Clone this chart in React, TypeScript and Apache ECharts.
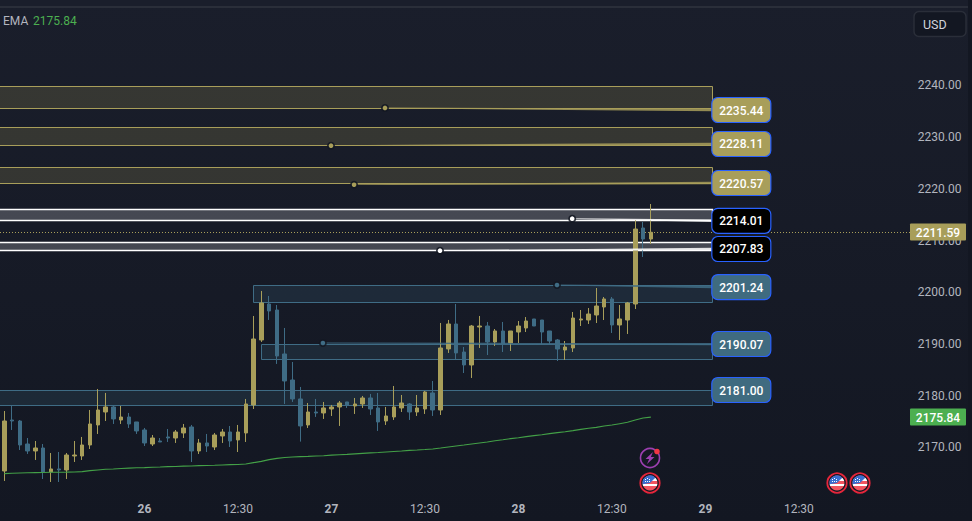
import React, { useEffect, useRef } from "react";
import * as echarts from "echarts";

const FONT = "Roboto, 'Liberation Sans', sans-serif";
const GOLD = "#A89E5A";
const BLUE = "#3F6C85";
const WHITE = "#FFFFFF";
const GREEN = "#4CAF50";

const opens = [2165.42,2175.28,2175.09,2170.64,2169.29,2169.87,2165.23,2165.81,2165.61,2168.32,2168.32,2170.45,2174.32,2176.83,2177.80,2175.28,2175.86,2174.90,2173.35,2170.64,2171.22,2172.00,2171.80,2172.77,2173.93,2169.29,2170.84,2170.06,2172.19,2172.96,2171.42,2172.77,2178.19,2190.76,2197.72,2196.56,2188.05,2183.02,2179.35,2174.32,2176.83,2176.64,2177.41,2177.80,2178.77,2177.99,2178.38,2179.54,2177.61,2175.09,2175.87,2177.61,2178.38,2176.83,2177.41,2180.51,2177.22,2189.02,2193.85,2188.43,2185.92,2193.27,2193.46,2190.37,2192.50,2190.18,2192.30,2193.08,2194.82,2194.62,2192.50,2190.76,2188.82,2189.21,2194.62,2194.62,2195.59,2197.14,2198.69,2193.66,2194.62,2197.72,2212.42,2210.29];
const closes = [2175.09,2175.09,2170.45,2169.29,2169.87,2165.23,2165.81,2165.61,2168.51,2168.51,2170.45,2174.51,2177.22,2177.80,2175.48,2175.86,2174.51,2173.16,2170.84,2171.80,2171.03,2171.80,2172.96,2173.74,2169.29,2170.84,2170.25,2172.38,2172.96,2171.22,2172.96,2178.38,2190.95,2197.92,2196.37,2187.66,2182.83,2179.35,2174.13,2176.83,2176.64,2177.61,2177.80,2178.57,2178.19,2178.38,2179.54,2177.41,2174.90,2176.06,2177.80,2178.57,2176.83,2177.61,2180.70,2177.22,2189.21,2193.85,2188.25,2185.92,2193.46,2193.46,2190.37,2192.50,2189.98,2192.50,2193.46,2194.43,2193.46,2192.30,2190.56,2189.01,2189.40,2195.01,2194.82,2195.78,2197.33,2198.69,2193.66,2194.82,2197.91,2212.22,2210.29,2211.59];
const lows = [2163.49,2173.35,2169.48,2168.71,2167.55,2163.87,2163.29,2163.29,2163.87,2167.16,2167.55,2169.67,2172.58,2175.09,2174.51,2174.51,2173.74,2172.58,2170.25,2170.25,2171.03,2171.03,2170.84,2171.80,2167.16,2168.71,2169.09,2169.48,2170.84,2170.06,2169.09,2171.03,2177.41,2190.37,2194.63,2186.12,2178.38,2178.77,2171.10,2173.74,2175.87,2175.48,2176.06,2174.13,2177.61,2176.45,2177.61,2176.25,2173.16,2174.32,2175.29,2176.83,2175.29,2176.06,2176.45,2176.06,2176.25,2188.25,2187.08,2184.37,2183.41,2189.21,2187.85,2189.60,2188.43,2188.63,2190.18,2192.30,2193.46,2189.98,2189.98,2186.69,2186.89,2188.43,2193.46,2193.85,2194.04,2194.62,2192.11,2190.76,2191.92,2196.75,2206.81,2209.32];
const highs = [2177.02,2178.18,2175.28,2171.80,2171.22,2170.64,2168.90,2169.09,2168.90,2171.22,2172.00,2177.22,2181.28,2180.51,2177.99,2177.99,2176.64,2174.90,2173.74,2172.38,2171.80,2173.54,2173.35,2174.51,2174.32,2171.61,2172.58,2172.77,2173.54,2174.12,2174.32,2179.35,2195.40,2200.24,2199.27,2197.53,2193.08,2186.50,2181.67,2178.57,2179.35,2178.77,2178.19,2178.96,2178.77,2179.54,2179.93,2180.32,2180.51,2177.80,2181.86,2180.12,2178.57,2180.12,2180.90,2182.83,2194.05,2194.63,2197.72,2189.40,2193.66,2195.40,2194.24,2192.88,2194.24,2192.50,2194.43,2195.20,2194.82,2194.62,2192.50,2190.95,2190.56,2196.17,2196.56,2196.94,2200.81,2199.07,2199.07,2197.52,2198.11,2213.96,2213.58,2217.06];
const ema = [2164.90,2164.97,2165.03,2165.07,2165.10,2165.13,2165.16,2165.16,2165.19,2165.23,2165.29,2165.48,2165.61,2165.74,2165.81,2165.90,2165.97,2166.03,2166.07,2166.13,2166.19,2166.26,2166.29,2166.35,2166.39,2166.45,2166.48,2166.52,2166.58,2166.64,2166.67,2166.77,2167.03,2167.28,2167.61,2167.86,2168.02,2168.12,2168.19,2168.25,2168.32,2168.38,2168.48,2168.57,2168.64,2168.73,2168.83,2168.93,2168.99,2169.09,2169.19,2169.28,2169.41,2169.48,2169.57,2169.67,2169.86,2170.06,2170.25,2170.44,2170.64,2170.83,2171.02,2171.28,2171.47,2171.67,2171.86,2172.06,2172.25,2172.44,2172.64,2172.83,2173.02,2173.22,2173.47,2173.67,2173.86,2174.12,2174.31,2174.57,2174.83,2175.28,2175.67,2175.84];

const BAND_COUNT = 115;
const xTickIndex = [18, 30, 42, 54, 66, 78, 90, 102];
const xTickLabels = ["26", "12:30", "27", "12:30", "28", "12:30", "29", "12:30"];

// price zones
const zoneLabels = ["2235.44", "2228.11", "2220.57", "2214.01", "2207.83", "2201.24", "2190.07", "2181.00"];
const zoneTops = [2239.83, 2231.90, 2224.16, 2216.15, 2209.65, 2201.33, 2189.92, 2181.08];
const zoneBottoms = [2235.57, 2228.41, 2221.06, 2213.91, 2208.10, 2198.05, 2187.02, 2178.25];
const zoneStarts = [-2, -2, -2, -2, -2, 31.96, 32.99, -2];
const zoneEnd = 90.85;
const zoneColors = [GOLD, GOLD, GOLD, WHITE, WHITE, BLUE, BLUE, BLUE];
const zoneFills = ["rgba(168,158,90,0.2)", "rgba(168,158,90,0.2)", "rgba(168,158,90,0.2)", "rgba(255,255,255,0.2)", "rgba(255,255,255,0.2)", "rgba(63,108,133,0.2)", "rgba(63,108,133,0.2)", "rgba(63,108,133,0.2)"];
const pillFills = [GOLD, GOLD, GOLD, "#000000", "#000000", "#3F6B80", "#3F6B80", "#3F6B80"];
const pillPrices = [2235.24, 2228.67, 2221.12, 2213.81, 2208.36, 2201.0, 2189.98, 2181.08];
const anchorIndex = [48.87, 41.94, 44.9, 72.9, 55.93, 70.95, 40.9, null];
const anchorPrices = [2235.64, 2228.34, 2220.79, 2214.22, 2208.03, 2201.39, 2190.17, null];

const lastPrice = 2211.59;
const lastEma = 2175.84;

const flag = (x: number, y: number) => ({
  type: "group",
  x,
  y,
  children: [
    { type: "circle", shape: { cx: 0, cy: 0, r: 9.7 }, style: { fill: "#131722", stroke: "#E5263B", lineWidth: 1.8 } },
    {
      type: "circle",
      shape: { cx: 0, cy: 0, r: 7.5 },
      style: {
        fill: new echarts.graphic.LinearGradient(0, 0, 0, 1, [
          { offset: 0, color: "#F2555F" },
          { offset: 0.2, color: "#F2555F" },
          { offset: 0.2, color: "#FFFFFF" },
          { offset: 0.38, color: "#FFFFFF" },
          { offset: 0.38, color: "#F2555F" },
          { offset: 0.55, color: "#F2555F" },
          { offset: 0.55, color: "#FFFFFF" },
          { offset: 0.72, color: "#FFFFFF" },
          { offset: 0.72, color: "#F2555F" },
          { offset: 1, color: "#F2555F" },
        ]),
      },
    },
    { type: "sector", shape: { cx: 0, cy: 0, r: 7.5, startAngle: Math.PI * 0.95, endAngle: Math.PI * 1.75 }, style: { fill: "#3A6FD0" } },
    { type: "rect", shape: { x: -5, y: -4, width: 1, height: 1 }, style: { fill: "#FFFFFF" } },
    { type: "rect", shape: { x: -3, y: -5, width: 1, height: 1 }, style: { fill: "#FFFFFF" } },
    { type: "rect", shape: { x: -1, y: -4, width: 1, height: 1 }, style: { fill: "#FFFFFF" } },
    { type: "rect", shape: { x: -5, y: -2, width: 1, height: 1 }, style: { fill: "#FFFFFF" } },
    { type: "rect", shape: { x: -3, y: -2, width: 1, height: 1 }, style: { fill: "#FFFFFF" } },
    { type: "rect", shape: { x: -1, y: -2, width: 1, height: 1 }, style: { fill: "#FFFFFF" } },
  ],
});

export default function App() {
  const ref = useRef<HTMLDivElement>(null);

  useEffect(() => {
    if (!ref.current) return;
    const chart = echarts.init(ref.current, undefined, { renderer: "svg" });

    const crisp = (v: number) => Math.round(v) + 0.5;

    const renderZone = (params: any, api: any) => {
      const i = params.dataIndex;
      const a = api.coord([zoneStarts[i], zoneTops[i]]);
      const b = api.coord([zoneEnd, zoneBottoms[i]]);
      const x0 = crisp(a[0]);
      const y0 = crisp(a[1]);
      const x1 = crisp(b[0]);
      const y1 = crisp(b[1]);
      return {
        type: "rect",
        shape: { x: x0, y: y0, width: x1 - x0, height: y1 - y0 },
        style: { fill: zoneFills[i], stroke: zoneColors[i], lineWidth: zoneColors[i] === WHITE ? 1.4 : 1 },
      };
    };

    const renderPill = (params: any, api: any) => {
      const i = params.dataIndex;
      const right = api.coord([zoneEnd, pillPrices[i]]);
      const px = right[0] - 0.2;
      const py = right[1];
      const children: any[] = [];
      if (anchorIndex[i] !== null) {
        const anchor = api.coord([anchorIndex[i], anchorPrices[i]]);
        children.push({
          type: "polygon",
          shape: {
            points: [
              [anchor[0], anchor[1] - 0.4],
              [px + 2, py - 1.3],
              [px + 2, py + 1.3],
              [anchor[0], anchor[1] + 0.4],
            ],
          },
          style: { fill: zoneColors[i], opacity: 0.85 },
        });
        children.push({
          type: "circle",
          shape: { cx: anchor[0], cy: anchor[1], r: 4 },
          style: { fill: "#131722", opacity: 0.85 },
        });
        children.push({
          type: "circle",
          shape: { cx: anchor[0], cy: anchor[1], r: 2.3 },
          style: { fill: zoneColors[i] },
        });
      }
      children.push({
        type: "rect",
        shape: { x: px, y: py - 12.5, width: 59, height: 25, r: 6 },
        style: { fill: pillFills[i], stroke: "#2962FF", lineWidth: 1.2 },
      });
      children.push({
        type: "text",
        style: {
          x: px + 29.5,
          y: py + 0.5,
          text: zoneLabels[i],
          fill: "#FFFFFF",
          fontFamily: FONT,
          fontSize: 12,
          fontWeight: 500,
          align: "center",
          verticalAlign: "middle",
        },
      });
      return { type: "group", children };
    };

    const priceTags = [
      { price: lastPrice, fill: GOLD },
      { price: lastEma, fill: GREEN },
    ];

    const renderTag = (params: any, api: any) => {
      const t = priceTags[params.dataIndex];
      const c = api.coord([0, t.price]);
      return {
        type: "group",
        children: [
          {
            type: "rect",
            shape: { x: 910, y: Math.round(c[1]) - 8.5, width: 56, height: 17, r: 1 },
            style: { fill: t.fill },
          },
          {
            type: "text",
            style: {
              x: 938,
              y: Math.round(c[1]) + 0.5,
              text: t.price.toFixed(2),
              fill: "#FFFFFF",
              fontFamily: FONT,
              fontSize: 12,
              fontWeight: 500,
              align: "center",
              verticalAlign: "middle",
            },
          },
        ],
      };
    };

    const renderDotted = (params: any, api: any) => {
      const c = api.coord([0, lastPrice]);
      const y = crisp(c[1]);
      return {
        type: "line",
        shape: { x1: 0, y1: y, x2: 910, y2: y },
        style: { stroke: GOLD, lineWidth: 1, lineDash: [1, 2] },
      };
    };

    chart.setOption({
      animation: false,
      backgroundColor: "transparent",
      textStyle: { fontFamily: FONT },
      grid: { left: 0.4, top: 85.4, width: BAND_COUNT * 7.79, height: 413.6, containLabel: false },
      xAxis: [
        {
          type: "category",
          data: Array.from({ length: BAND_COUNT }, (_, i) => {
            const k = xTickIndex.indexOf(i);
            return k >= 0 ? xTickLabels[k] : String(i);
          }),
          boundaryGap: true,
          axisLine: { show: false },
          axisTick: { show: false },
          splitLine: { show: false },
          axisLabel: {
            interval: (index: number) => xTickIndex.includes(index),
            margin: 4,
            color: "#B2B5BE",
            fontFamily: FONT,
            fontSize: 12,
            formatter: (v: string) => (v.includes(":") ? v : `{d|${v}}`),
            rich: { d: { fontWeight: "bold", color: "#B2B5BE", fontFamily: FONT, fontSize: 12 } },
          },
        },
        {
          type: "value",
          min: -0.5,
          max: BAND_COUNT - 0.5,
          show: false,
          splitLine: { show: false },
        },
      ],
      yAxis: {
        type: "value",
        position: "right",
        min: 2160,
        max: 2240,
        interval: 10,
        scale: true,
        axisLine: { show: false },
        axisTick: { show: false },
        splitLine: { show: false },
        axisLabel: {
          showMinLabel: false,
          margin: 21.5,
          color: "#B2B5BE",
          fontFamily: FONT,
          fontSize: 12,
          formatter: (v: number) => v.toFixed(2),
        },
      },
      series: [
        {
          type: "custom",
          name: "zones",
          xAxisIndex: 1,
          coordinateSystem: "cartesian2d",
          clip: false,
          z: 1,
          silent: true,
          renderItem: renderZone,
          data: zoneLabels.map((_, i) => [zoneEnd, zoneBottoms[i]]),
        },
        {
          type: "custom",
          name: "last",
          xAxisIndex: 1,
          clip: false,
          z: 1,
          silent: true,
          renderItem: renderDotted,
          data: [[0, lastPrice]],
        },
        {
          type: "candlestick",
          name: "XAUUSD",
          z: 3,
          barWidth: 4,
          itemStyle: { color: GOLD, color0: BLUE, borderColor: GOLD, borderColor0: BLUE, borderWidth: 1 },
          data: opens.map((o, i) => [o, closes[i], lows[i], highs[i]]),
        },
        {
          type: "line",
          name: "EMA",
          z: 4,
          symbol: "none",
          smooth: false,
          lineStyle: { color: "#43A047", width: 1.1 },
          data: ema,
        },
        {
          type: "custom",
          name: "levels",
          xAxisIndex: 1,
          clip: false,
          z: 5,
          silent: true,
          renderItem: renderPill,
          data: zoneLabels.map((_, i) => [zoneEnd, pillPrices[i]]),
        },
        {
          type: "custom",
          name: "tags",
          xAxisIndex: 1,
          clip: false,
          z: 6,
          silent: true,
          renderItem: renderTag,
          data: priceTags.map((t) => [0, t.price]),
        },
      ],
      graphic: [
        { type: "rect", silent: true, z: 0, shape: { x: 0, y: 0, width: 972, height: 6 }, style: { fill: "#1A1E2B" } },
        { type: "rect", silent: true, z: 0, shape: { x: 0, y: 6, width: 972, height: 2 }, style: { fill: "#2A2E39" } },
        { type: "rect", silent: true, z: 0, shape: { x: 968, y: 0, width: 4, height: 521 }, style: { fill: "#131722" } },
        {
          type: "text",
          silent: true,
          style: { x: 3, y: 21, text: "EMA", fill: "#B2B5BE", fontFamily: FONT, fontSize: 12, verticalAlign: "middle" },
        },
        {
          type: "text",
          silent: true,
          style: { x: 33, y: 21, text: "2175.84", fill: GREEN, fontFamily: FONT, fontSize: 12, verticalAlign: "middle" },
        },
        {
          type: "rect",
          silent: true,
          shape: { x: 914, y: 11.5, width: 52, height: 25, r: 5 },
          style: { fill: "#131722", stroke: "#2A2E39", lineWidth: 1.5 },
        },
        {
          type: "text",
          silent: true,
          style: { x: 923, y: 24.5, text: "USD", fill: "#D1D4DC", fontFamily: FONT, fontSize: 12.5, verticalAlign: "middle" },
        },
        {
          type: "group",
          x: 650,
          y: 458,
          children: [
            { type: "circle", shape: { cx: 0, cy: 0, r: 9.5 }, style: { fill: "transparent", stroke: "#9C3FB0", lineWidth: 1.6 } },
            {
              type: "polygon",
              shape: { points: [[3, -6], [-4.5, 1], [-0.8, 1], [-3, 6], [4.5, -1], [0.8, -1]] },
              style: { fill: "#9C3FB0" },
            },
            { type: "circle", shape: { cx: 7, cy: -6.5, r: 2.8 }, style: { fill: "#F23645" } },
          ],
        },
        flag(650, 483),
        flag(837, 483),
        flag(860, 483),
      ],
    });

    return () => chart.dispose();
  }, []);

  return (
    <div
      ref={ref}
      style={{
        position: "absolute",
        left: 0,
        top: 0,
        width: 972,
        height: 521,
        background: "linear-gradient(180deg, #1A1E2B 0%, #131722 100%)",
      }}
    />
  );
}
